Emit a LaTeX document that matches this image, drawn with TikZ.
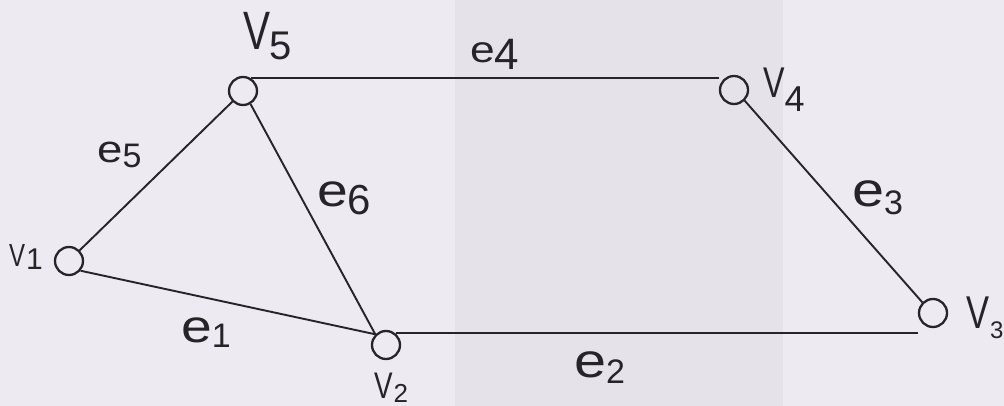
\documentclass[tikz,border=0pt]{standalone}
\usepackage{fontspec}
\usepackage{graphicx}
\setmainfont{Liberation Sans}
\definecolor{paper}{RGB}{237,234,241}
\definecolor{band}{RGB}{229,227,233}
\definecolor{ink}{RGB}{38,36,40}
\newcommand\hwdigit[3]{\raisebox{-#1pt}{\fontsize{#2}{#2}\selectfont #3}}
\newcommand\ltrV[1]{{\fontsize{#1}{#1}\selectfont\scalebox{0.75}[1]{V}}}
\newcommand\ltrE[1]{{\fontsize{#1}{#1}\selectfont\scalebox{1.2}[1]{e}}}
\begin{document}
\begin{tikzpicture}[x=1pt,y=-1pt,
  vtx/.style={circle,draw=ink,line width=2.3pt,minimum size=28pt,inner sep=0pt},
  edge/.style={draw=ink,line width=1.9pt},
  lbl/.style={text=ink,inner sep=0pt,anchor=base west}]
\fill[paper] (0,0) rectangle (1004,406);
\fill[band] (455,0) rectangle (783,406);
\useasboundingbox (0,0) rectangle (1004,406);

% vertices
\node[vtx] (V1) at (69,261) {};
\node[vtx] (V5) at (243,91) {};
\node[vtx] (V4) at (734,90) {};
\node[vtx] (V2) at (386,345) {};
\node[vtx] (V3) at (933,313) {};

% edges
\draw[edge] (V1.-40) -- (V2.135);
\draw[edge] (V2.50) -- (V2.50 -| V3.west);
\draw[edge] (V4.-45) -- (V3.135);
\draw[edge] (V5.60) -- (V5.60 -| V4.west);
\draw[edge] (V1.45) -- (V5.225);
\draw[edge] (V5.-60) -- (V2.135);

% vertex labels
\node[lbl] (lV5) at (243,50) {\ltrV{54}\kern-1pt\hwdigit{10}{40}{5}};
\node[lbl] (lV4) at (763,98) {\ltrV{43}\kern0pt\hwdigit{14}{36}{4}};
\node[lbl] (lV1) at (9,266) {\ltrV{32}\kern1pt\hwdigit{3}{30}{1}};
\node[lbl] (lV2) at (374,398) {\ltrV{37}\kern1pt\hwdigit{4}{26}{2}};
\node[lbl] (lV3) at (966,328) {\ltrV{46}\kern1pt\hwdigit{10}{24}{3}};

% edge labels
\node[lbl] (le4) at (470,63) {\ltrE{37}\hwdigit{7}{44}{4}};
\node[lbl] (le5) at (97,163) {\ltrE{38}\hwdigit{5}{34}{5}};
\node[lbl] (le6) at (317,207) {\ltrE{46}\hwdigit{8}{42}{6}};
\node[lbl] (le1) at (181,342) {\ltrE{46}\hwdigit{5}{34}{1}};
\node[lbl] (le3) at (852,207) {\ltrE{48}\hwdigit{8}{34}{3}};
\node[lbl] (le2) at (574,377) {\ltrE{48}\hwdigit{6}{34}{2}};
\end{tikzpicture}
\end{document}
